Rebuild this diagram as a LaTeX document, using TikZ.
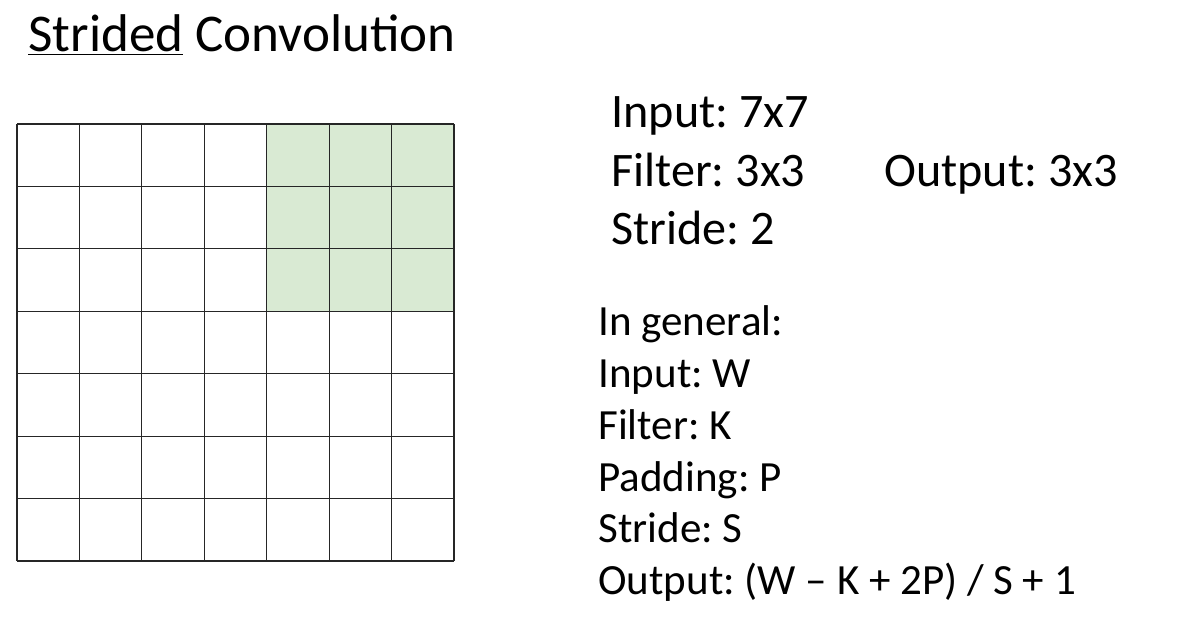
\documentclass[tikz,border=0pt]{standalone}
\usepackage{fontspec}
\setmainfont{Carlito}
\frenchspacing
\definecolor{winfill}{HTML}{D9EAD3}
\tikzset{>=stealth,
  txt/.style={anchor=base west, inner sep=0pt},
  bigtxt/.style={txt, font=\fontsize{27.4}{32}\selectfont},
  smalltxt/.style={txt, font=\fontsize{24.5}{28}\selectfont},
  cell/.style={line width=0.7pt, draw=black!85}}

\begin{document}
\begin{tikzpicture}[x=0.02cm, y=-0.02cm]
\useasboundingbox (0,0) rectangle (1182,624);
% title
\node[txt, font=\fontsize{30.2}{36}\selectfont] (title) at (28,52) {\underline{Strided} Convolution};
% input grid with the filter window
\fill[winfill] (266.7,124) rectangle (454,311.3);
\foreach \i in {0,1,...,7}
{
\draw[cell] (17+62.43*\i,124) -- (17+62.43*\i,561);
\draw[cell] (17,124+62.43*\i) -- (454,124+62.43*\i);
}
% example values
\node[bigtxt] (inp) at (611,128) {Input: 7x7};
\node[bigtxt] (filt) at (611,186.5) {Filter: 3x3};
\node[bigtxt] (strd) at (611,245) {Stride: 2};
\node[bigtxt] (outp) at (884,186.5) {Output: 3x3};
% general case
\node[smalltxt] (gen) at (598,336) {In general:};
\node[smalltxt] (ginp) at (598,388) {Input: W};
\node[smalltxt] (gfilt) at (598,439) {Filter: K};
\node[smalltxt] (gpad) at (598,491) {Padding: P};
\node[smalltxt] (gstrd) at (598,542) {Stride: S};
\node[smalltxt] (goutp) at (598,594) {Output: (W -- K + 2P) / S + 1};
\end{tikzpicture}
\end{document}
